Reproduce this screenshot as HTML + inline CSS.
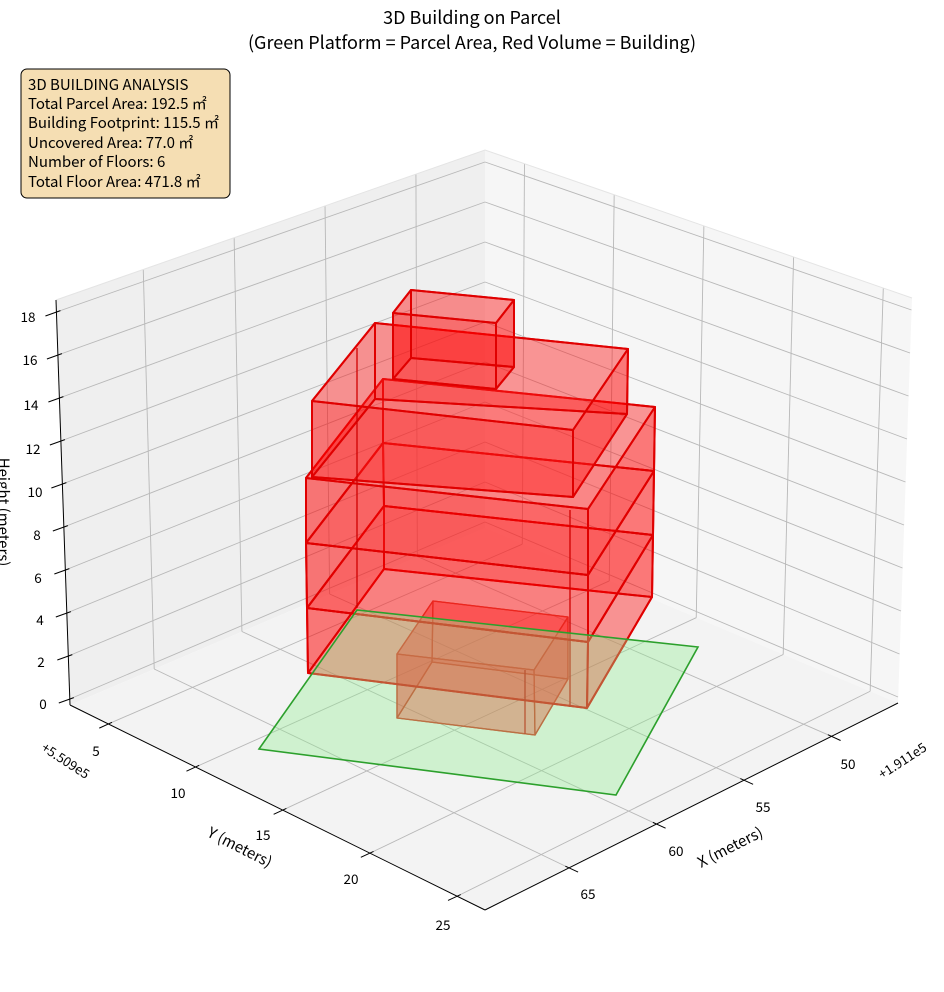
<!DOCTYPE html>
<html><head><meta charset="utf-8"><style>
html,body{margin:0;padding:0;background:#fff;}
svg{display:block;font-family:"Liberation Sans","Noto Sans CJK JP",sans-serif;}
.t{font-family:"Noto Sans CJK JP","Liberation Sans",sans-serif;}
</style></head><body>
<svg id="s" width="944" height="992" viewBox="0 0 944 992" xmlns="http://www.w3.org/2000/svg">
<polygon points="56,300 485,150 485,528 70,705" fill="#efefef"/>
<polygon points="485,150 912,298 898,703 485,528" fill="#f6f6f6"/>
<polygon points="485,528 898,703 485,910 70,705" fill="#f3f3f3"/>
<g id="grid" stroke="#b8b8b8" stroke-width="0.9" fill="none"></g>
<polyline points="56,300 485,150 912,298" fill="none" stroke="#e4e4e4" stroke-width="1"/>
<g stroke="#000" stroke-width="1" fill="none">
<line x1="56" y1="300" x2="70" y2="705"/>
<line x1="70" y1="705" x2="485" y2="910"/>
<line x1="485" y1="910" x2="898" y2="703"/>
</g>
<g id="ticks" stroke="#000" stroke-width="1"></g>
<g id="bld"></g>
<polygon points="259,749 357,610 698,647 616,795" fill="rgb(144,238,144)" fill-opacity="0.36" stroke="#2ca02c" stroke-width="1.6"/>
<g class="t" font-size="18" text-anchor="middle" fill="#000">
<text x="472" y="24">3D Building on Parcel</text>
<text x="472" y="49">(Green Platform = Parcel Area, Red Volume = Building)</text>
</g>
<rect x="21" y="69" width="209" height="129" rx="6" fill="#f5deb3" stroke="#000" stroke-width="1"/>
<g class="t" font-size="15" fill="#000">
<text x="28" y="90">3D BUILDING ANALYSIS</text>
<text x="28" y="109">Total Parcel Area: 192.5 ㎡</text>
<text x="28" y="128">Building Footprint: 115.5 ㎡</text>
<text x="28" y="148">Uncovered Area: 77.0 ㎡</text>
<text x="28" y="167">Number of Floors: 6</text>
<text x="28" y="187">Total Floor Area: 471.8 ㎡</text>
</g>
<g class="t" font-size="13.5" text-anchor="middle" dominant-baseline="central" fill="#000">
<text x="28" y="316">18</text><text x="30" y="359">16</text><text x="31" y="404">14</text>
<text x="33" y="448">12</text><text x="35" y="491">10</text><text x="37" y="534">8</text>
<text x="38" y="577">6</text><text x="40" y="619">4</text><text x="41" y="661">2</text>
<text x="43" y="703">0</text>
<text x="96" y="750">5</text><text x="178" y="792">10</text><text x="263" y="834">15</text>
<text x="351" y="878">20</text><text x="443" y="924">25</text>
<text x="848" y="763">50</text><text x="763" y="806">55</text><text x="676" y="850">60</text>
<text x="588" y="893">65</text>
<text x="0" y="0" transform="translate(66,760) rotate(33)" font-size="13">+5.509e5</text>
<text x="0" y="0" transform="translate(902,760) rotate(-33)" font-size="13">+1.911e5</text>
<text x="0" y="0" transform="translate(240,847) rotate(27)" font-size="15">Y (meters)</text>
<text x="0" y="0" transform="translate(730,847) rotate(-27)" font-size="15">X (meters)</text>
<text x="0" y="0" transform="translate(4,512) rotate(90)" font-size="15">Height (meters)</text>
</g>
</svg>
<script>
(function(){
var NS="http://www.w3.org/2000/svg";
function el(p,t,a){var e=document.createElementNS(NS,t);for(var k in a)e.setAttribute(k,a[k]);p.appendChild(e);return e;}
var B=[484,528],L=[70,705],R=[898,703],F=[485,910];
function P(u,v){return [B[0]*(1-u)*(1-v)+L[0]*u*(1-v)+R[0]*(1-u)*v+F[0]*u*v,
 B[1]*(1-u)*(1-v)+L[1]*u*(1-v)+R[1]*(1-u)*v+F[1]*u*v];}
var g=document.getElementById('grid'),tk=document.getElementById('ticks');
function ln(p,a,b){el(p,'line',{x1:a[0],y1:a[1],x2:b[0],y2:b[1]});}
var us=[50,55,60,65].map(function(x){return (x-46.2)/23.6;});
var vs=[5,10,15,20,25].map(function(y){return (y-2.8)/23.8;});
us.forEach(function(u){
 ln(g,P(u,0),P(u,1));
 ln(g,P(u,0),[485-429*u,150+150*u]);
 var p=P(u,1);ln(tk,[p[0]-0.909*4,p[1]-0.417*4],[p[0]+0.909*10,p[1]+0.417*10]);
});
vs.forEach(function(v){
 ln(g,P(0,v),P(1,v));
 ln(g,P(0,v),[485+427*v,150+148*v]);
 var p=P(1,v);ln(tk,[p[0]+0.908*4,p[1]-0.419*4],[p[0]-0.908*10,p[1]+0.419*10]);
});
for(var z=0;z<=18;z+=2){
 var yl=699-21.5*z,xl=69.8-0.743*z,yb=522-20*z,yr=697-21.5*z,xr=898+0.75*z;
 ln(g,[xl,yl],[485,yb]);ln(g,[485,yb],[xr,yr]);
 ln(tk,[xl-11,yl+4],[xl+4,yl-1.4]);
}
var bld=document.getElementById('bld');
function pts(f){return f.map(function(p){return p.join(',')}).join(' ');}
function box(b,t,sw,col,skipBottom,op){
 var sides=[[b[0],b[1],t[1],t[0]],[b[1],b[2],t[2],t[1]],[b[2],b[3],t[3],t[2]],[b[3],b[0],t[0],t[3]]];
 var horiz=[t];if(!skipBottom)horiz.push(b);
 horiz.forEach(function(f){el(bld,'polygon',{points:pts(f),fill:'#ff5050','fill-opacity':0.2,stroke:'none'});});
 sides.forEach(function(f){el(bld,'polygon',{points:pts(f),fill:'#ff0000','fill-opacity':op,stroke:'none'});});
 horiz.concat(sides).forEach(function(f){el(bld,'polygon',{points:pts(f),fill:'none',stroke:col,'stroke-width':sw,'stroke-linejoin':'round'});});
}
var A_b=[[397,718],[535,735],[568,679],[432,662]],A_t=[[397,654],[534,670],[568,617],[433,601]];
var z3=[[308,673],[587,708],[652,597],[384,569]],z6=[[307,608],[588,642],[653,535],[384,506]],
 z9=[[306,543],[588,575],[654,471],[383,443]],z12=[[306,478],[588,509],[655,407],[383,379]];
var Cb=[[312,477],[573,497],[627,414],[375,399]],Ct=[[312,401],[573,430],[628,349],[375,323]];
var Db=[[393,379],[496,389],[514,367],[411,358]],Dt=[[393,313],[496,323],[514,300],[411,290]];
box(A_b,A_t,1.3,'#d42a1a',false,0.3);
box(z3,z6,2,'#e00000',false,0.3);box(z6,z9,2,'#e00000',true,0.3);box(z9,z12,2,'#e00000',true,0.3);
box(Cb,Ct,2,'#e00000',false,0.3);box(Db,Dt,2,'#e00000',false,0.32);
[[[357,348],[357,608]],[[570,510],[570,707]],[[525,670],[525,734]]].forEach(function(s){
 el(bld,'line',{x1:s[0][0],y1:s[0][1],x2:s[1][0],y2:s[1][1],stroke:'#d00000','stroke-width':1.3});});
})();
</script>
</body></html>
